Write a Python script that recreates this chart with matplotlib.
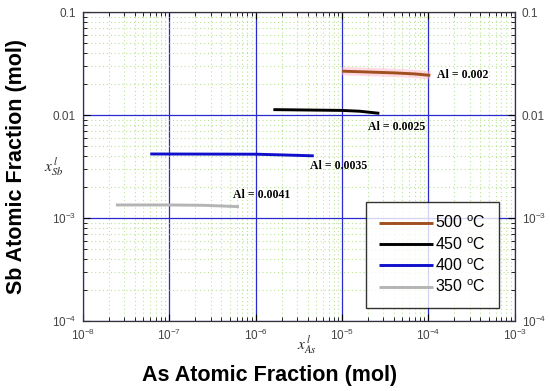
import matplotlib
matplotlib.use("Agg")
import matplotlib.pyplot as plt
from matplotlib.ticker import LogLocator, FixedLocator, FixedFormatter, NullFormatter

plt.rcParams["font.family"] = ["Liberation Sans", "DejaVu Sans"]
plt.rcParams["mathtext.fontset"] = "custom"
plt.rcParams["mathtext.rm"] = "Liberation Sans"
plt.rcParams["mathtext.it"] = "Liberation Sans:italic"

# Data
labels = ["500 $^{\\mathrm{o}}$C", "450 $^{\\mathrm{o}}$C", "400 $^{\\mathrm{o}}$C", "350 $^{\\mathrm{o}}$C"]
colors = ["#a0501e", "#000000", "#1010cc", "#b4b4b4"]
x500 = [1.0e-5, 2.0e-5, 4.0e-5, 7.0e-5, 1.05e-4]
y500 = [0.0267, 0.0262, 0.0257, 0.0251, 0.0243]
x450 = [1.6e-6, 4.0e-6, 1.0e-5, 1.6e-5, 2.7e-5]
y450 = [0.0113, 0.0112, 0.0111, 0.0109, 0.0104]
x400 = [6.0e-8, 3.0e-7, 1.0e-6, 2.3e-6, 4.7e-6]
y400 = [0.00419, 0.00418, 0.00417, 0.00409, 0.00402]
x350 = [2.4e-8, 1.0e-7, 2.5e-7, 4.0e-7, 6.4e-7]
y350 = [0.00134, 0.00134, 0.00133, 0.00131, 0.00129]
series_x = [x500, x450, x400, x350]
series_y = [y500, y450, y400, y350]
al_text = ["Al = 0.002", "Al = 0.0025", "Al = 0.0035", "Al = 0.0041"]
al_pos = [(1.25e-4, 0.0247), (2.0e-5, 0.0077), (4.2e-6, 0.0032), (5.5e-7, 0.00168)]

xticks = [1e-8, 1e-7, 1e-6, 1e-5, 1e-4, 1e-3]
xticklabels = ["10$^{-8}$", "10$^{-7}$", "10$^{-6}$", "10$^{-5}$", "10$^{-4}$", "10$^{-3}$"]
yticks = [1e-4, 1e-3, 1e-2, 1e-1]
yticklabels = ["10$^{-4}$", "10$^{-3}$", "0.01", "0.1"]

fig = plt.figure(figsize=(5.5, 3.91), dpi=100)
ax = fig.add_axes([0.151, 0.179, 0.785, 0.790])
ax.set_xscale("log")
ax.set_yscale("log")
ax.set_xlim(1e-8, 1e-3)
ax.set_ylim(1e-4, 1e-1)

# grids
ax.xaxis.set_minor_locator(LogLocator(base=10, subs=range(2, 10)))
ax.yaxis.set_minor_locator(LogLocator(base=10, subs=range(2, 10)))
ax.grid(which="minor", color="#9ed86a", linestyle=(0, (1, 2.5)), linewidth=0.8, alpha=0.7)
ax.grid(which="major", color="#2a2ad0", linestyle="-", linewidth=0.9)
ax.set_axisbelow(True)

# pink highlight behind 500C
ax.plot(x500, y500, color="#ffb6c8", linewidth=6, alpha=0.5, solid_capstyle="butt", zorder=2)
handles = []
for xs, ys, c, lab in zip(series_x, series_y, colors, labels):
    h, = ax.plot(xs, ys, color=c, linewidth=2.1, label=lab, solid_capstyle="butt", zorder=3)
    handles.append(h)

for t, (px, py) in zip(al_text, al_pos):
    ax.text(px, py, t, fontsize=8.5, fontweight="bold", family="Liberation Serif",
            ha="left", va="center")

ax.xaxis.set_major_locator(FixedLocator(xticks))
ax.xaxis.set_major_formatter(FixedFormatter(xticklabels))
ax.xaxis.set_minor_formatter(NullFormatter())
ax.yaxis.set_major_locator(FixedLocator(yticks))
ax.yaxis.set_major_formatter(FixedFormatter(yticklabels))
ax.yaxis.set_minor_formatter(NullFormatter())
ax.tick_params(which="both", direction="in", top=True, right=True, labelright=True,
               labelsize=8.5, labelcolor="#444444", pad=5)
ax.tick_params(which="major", length=5)
ax.tick_params(which="minor", length=3)
for s in ax.spines.values():
    s.set_color("#333333")
    s.set_linewidth(0.9)

leg = ax.legend(handles=handles, loc="lower right", bbox_to_anchor=(0.981, 0.016),
                fontsize=11.5, handlelength=3.4, handletextpad=0.1, labelspacing=0.3,
                frameon=True, fancybox=False, edgecolor="black", borderpad=0.8)
leg.get_frame().set_linewidth(1.0)

fig.text(0.49, 0.04, "As Atomic Fraction (mol)", fontsize=15.5, fontweight="bold",
         ha="center", va="center")
fig.text(0.03, 0.575, "Sb Atomic Fraction (mol)", fontsize=15.5, fontweight="bold",
         rotation=90, ha="center", va="center")
fig.text(0.097, 0.575, "$x^{\\,l}_{Sb}$", fontsize=11, ha="center", va="center",
         math_fontfamily="stix", color="#222222")
fig.text(0.558, 0.118, "$x^{\\,l}_{As}$", fontsize=11, ha="center", va="center",
         math_fontfamily="stix", color="#222222")

fig.savefig("out.png", dpi=100)
